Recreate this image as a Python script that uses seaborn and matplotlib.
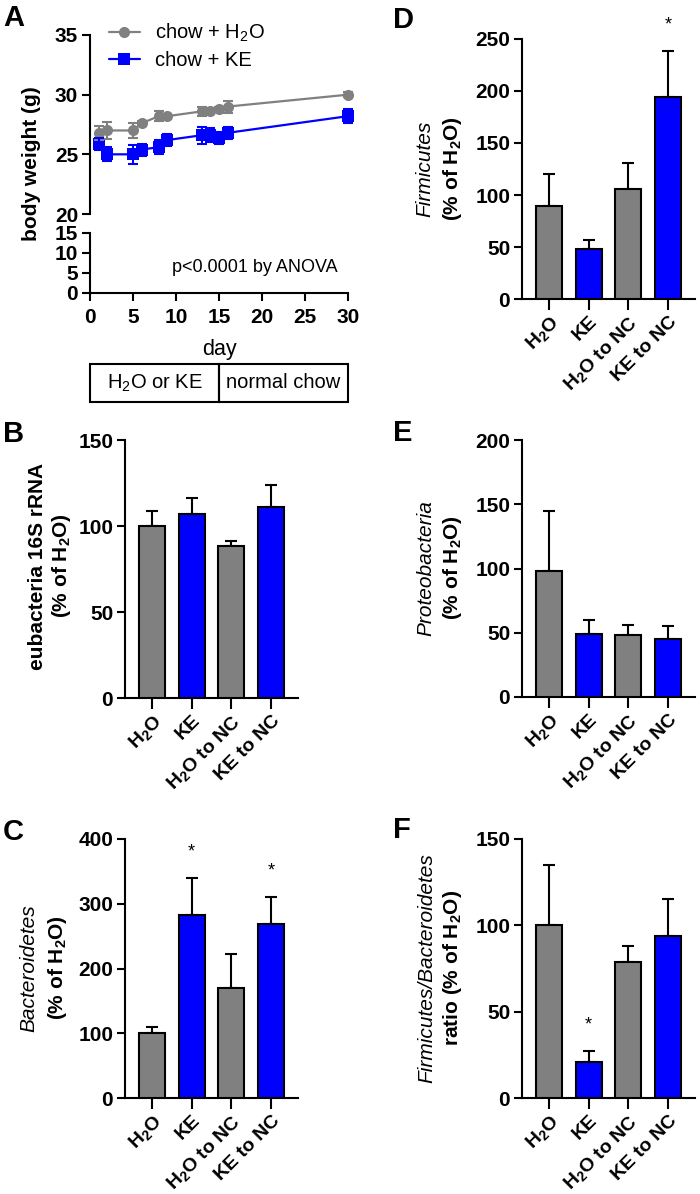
import numpy as np
import pandas as pd
import seaborn as sns
import matplotlib.pyplot as plt
from matplotlib.patches import Rectangle

# panel A: body weight over time
days = [1, 2, 5, 6, 8, 9, 13, 14, 15, 16, 30]
h2o_bw = [26.8, 27.0, 27.0, 27.6, 28.2, 28.2, 28.6, 28.6, 28.8, 29.0, 30.0]
h2o_bw_err = [0.6, 0.7, 0.6, 0.2, 0.4, 0.2, 0.4, 0.2, 0.2, 0.5, 0.2]
ke_bw = [25.9, 25.0, 25.0, 25.4, 25.6, 26.2, 26.6, 26.6, 26.4, 26.8, 28.2]
ke_bw_err = [0.5, 0.6, 0.8, 0.5, 0.6, 0.5, 0.7, 0.6, 0.5, 0.5, 0.6]
series_names = ['chow + H$_2$O', 'chow + KE']

# panels B-F: qPCR, % of H2O group
groups = ['H$_2$O', 'KE', 'H$_2$O to NC', 'KE to NC']
eubacteria = [100, 107, 88.5, 111]
eubacteria_err = [9, 9, 3, 13]
bacteroidetes = [100, 282, 170, 269]
bacteroidetes_err = [10, 58, 52, 41]
firmicutes = [89, 48, 106, 194]
firmicutes_err = [31, 9, 25, 44]
proteobacteria = [98, 49, 48, 45]
proteobacteria_err = [47, 11, 8, 10]
fb_ratio = [100, 21, 79, 94]
fb_ratio_err = [35, 6, 9, 21]
sig_bacteroidetes = [False, True, False, True]
sig_firmicutes = [False, False, False, True]
sig_fb_ratio = [False, True, False, False]

gray = '#808080'
blue = '#0000ff'
bar_colors = [gray, blue, gray, blue]

sns.set_style('ticks')
plt.rcParams['font.family'] = ['Liberation Sans', 'DejaVu Sans']
plt.rcParams['font.weight'] = 'bold'
plt.rcParams['mathtext.default'] = 'regular'
plt.rcParams['axes.linewidth'] = 1.5
for key in ['text.color', 'axes.labelcolor', 'axes.edgecolor',
            'xtick.color', 'ytick.color']:
    plt.rcParams[key] = 'black'

W, H = 700, 1194
fig = plt.figure(figsize=(W / 100, H / 100), dpi=100)


def px_axes(left, top, right, bottom):
    return fig.add_axes([left / W, 1 - bottom / H, (right - left) / W, (bottom - top) / H])


def style_ticks(ax):
    ax.tick_params(width=1.5, length=6, labelsize=15, pad=2.5, color='black')


# ---- panel A ----
ax_up = px_axes(90, 35, 348, 214)
ax_low = px_axes(90, 233, 348, 293)

df_bw = pd.DataFrame({'day': days * 2,
                      'weight': h2o_bw + ke_bw,
                      'group': [series_names[0]] * len(days) + [series_names[1]] * len(days)})
sns.lineplot(data=df_bw, x='day', y='weight', hue='group', style='group',
             markers=['o', 's'], dashes=False, palette=[gray, blue],
             markersize=8, markeredgewidth=0, linewidth=1.6, clip_on=False, ax=ax_up)
ax_up.errorbar(days, h2o_bw, yerr=h2o_bw_err, fmt='none', ecolor=gray,
               elinewidth=1.5, capsize=3.5, capthick=1.5, clip_on=False)
ax_up.errorbar(days, ke_bw, yerr=ke_bw_err, fmt='none', ecolor=blue,
               elinewidth=1.5, capsize=3.5, capthick=1.5, clip_on=False)

leg = ax_up.get_legend()
handles = leg.legend_handles
labels = [t.get_text() for t in leg.get_texts()]
leg.remove()
ax_up.legend(handles, labels, loc='upper left', bbox_to_anchor=(0.075, 1.075),
             frameon=False, borderpad=0, borderaxespad=0, handlelength=1.5,
             handletextpad=0.75, labelspacing=0.35,
             prop={'size': 14.5, 'weight': 'normal'})

ax_up.set_xlim(0, 30)
ax_up.set_ylim(20, 35)
ax_up.set_yticks([20, 25, 30, 35])
ax_up.set_xticks([])
ax_up.set_xlabel('')
ax_up.set_ylabel('')
sns.despine(ax=ax_up, bottom=True)
style_ticks(ax_up)

ax_low.set_xlim(0, 30)
ax_low.set_ylim(0, 15)
ax_low.set_yticks([0, 5, 10, 15])
ax_low.set_xticks([0, 5, 10, 15, 20, 25, 30])
sns.despine(ax=ax_low)
style_ticks(ax_low)
ax_low.tick_params(axis='x', pad=5)
ax_low.set_xlabel('day', fontsize=15.5)
ax_low.xaxis.set_label_coords(0.5, -0.77)
ax_low.text(0.64, 0.43, 'p<0.0001 by ANOVA', transform=ax_low.transAxes,
            ha='center', va='center', fontsize=13, fontweight='normal')

fig.text(32 / W, 1 - 164 / H, 'body weight (g)', rotation=90, ha='center',
         va='center', fontsize=15)

# treatment box under panel A
ax_box = px_axes(90, 364, 348, 402)
ax_box.set_xlim(0, 30)
ax_box.set_ylim(0, 1)
ax_box.axis('off')
for x0, txt in [(0, 'H$_2$O or KE'), (15, 'normal chow')]:
    ax_box.add_patch(Rectangle((x0, 0), 15, 1, fill=False, lw=1.5,
                               ec='black', clip_on=False))
    ax_box.text(x0 + 7.5, 0.5, txt, ha='center', va='center',
                fontsize=14.5, fontweight='normal')


# ---- bar panels ----
def bar_panel(box, vals, errs, ymax, step, sig=None):
    ax = px_axes(*box)
    sns.barplot(x=groups, y=vals, hue=groups, palette=bar_colors, legend=False,
                width=0.65, saturation=1, edgecolor='black', linewidth=1.5,
                ax=ax, zorder=3)
    ax.errorbar(range(4), vals, yerr=[np.zeros(4), errs], fmt='none',
                ecolor='black', elinewidth=1.5, capsize=4.5, capthick=1.5,
                zorder=2, clip_on=False)
    if sig is not None:
        for i, s in enumerate(sig):
            if s:
                ax.text(i, vals[i] + errs[i] + 0.1 * ymax, '*', ha='center',
                        va='center', fontsize=13, fontweight='normal',
                        clip_on=False)
    ax.set_xlim(-0.675, 3.675)
    ax.set_ylim(0, ymax)
    ax.set_yticks(np.arange(0, ymax + 1, step))
    ax.set_xticks(range(4))
    ax.set_xticklabels(groups, rotation=45, ha='right', rotation_mode='anchor')
    ax.set_xlabel('')
    ax.set_ylabel('')
    sns.despine(ax=ax)
    style_ticks(ax)
    ax.tick_params(axis='x', length=8, pad=2, labelsize=14)
    return ax


def ylab(x, y, txt, italic=False):
    fig.text(x / W, 1 - y / H, txt, rotation=90, ha='center', va='center',
             fontsize=15, fontstyle='italic' if italic else 'normal',
             fontweight='normal' if italic else 'bold')


bar_panel((125, 440, 298, 698), eubacteria, eubacteria_err, 150, 50)
ylab(38, 566, 'eubacteria 16S rRNA')
ylab(62, 566, '(% of H$_2$O)')

bar_panel((125, 839, 298, 1098), bacteroidetes, bacteroidetes_err, 400, 100,
          sig_bacteroidetes)
ylab(29, 968, 'Bacteroidetes', italic=True)
ylab(58, 968, '(% of H$_2$O)')

bar_panel((522, 39, 695, 299), firmicutes, firmicutes_err, 250, 50,
          sig_firmicutes)
ylab(425, 169, 'Firmicutes', italic=True)
ylab(453, 169, '(% of H$_2$O)')

bar_panel((522, 440, 695, 697), proteobacteria, proteobacteria_err, 200, 50)
ylab(426, 568, 'Proteobacteria', italic=True)
ylab(453, 568, '(% of H$_2$O)')

bar_panel((522, 839, 695, 1098), fb_ratio, fb_ratio_err, 150, 50,
          sig_fb_ratio)
ylab(427, 968, 'Firmicutes/Bacteroidetes', italic=True)
ylab(452, 968, 'ratio (% of H$_2$O)')

# panel letters
for x, y, letter in [(3, 4, 'A'), (3, 420, 'B'), (3, 818, 'C'),
                     (393, 6, 'D'), (393, 419, 'E'), (393, 816, 'F')]:
    fig.text(x / W, 1 - y / H, letter, ha='left', va='top', fontsize=21)

fig.savefig('out.png', dpi=100)
